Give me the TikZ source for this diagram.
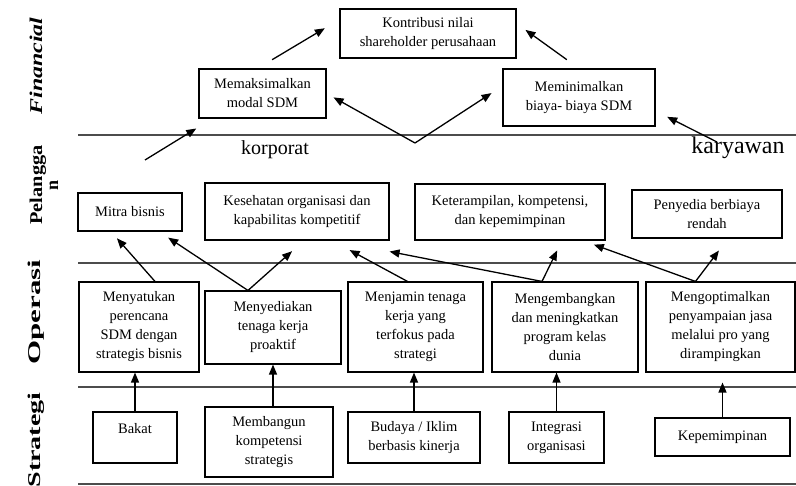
\documentclass[tikz,border=0pt]{standalone}
\usepackage{fontspec}
\setmainfont{Liberation Serif}
\usepackage{graphicx}
\usetikzlibrary{arrows.meta}

\begin{document}
\begin{tikzpicture}[x=1pt, y=-1pt, >={Triangle[length=10pt, width=8pt]},
	every node/.style={font=\fontsize{14.5}{19}\selectfont},
	box/.style={draw, line width=1.1pt, align=center, inner sep=2pt},
	arr/.style={->, line width=1.3pt},
	sep/.style={line width=1.6pt, black!70},
	side/.style={rotate=90, align=center, font=\fontsize{18}{16}\selectfont\bfseries}]
	\useasboundingbox (0,0) rectangle (796,486);
	% layer labels
	\node[side] (financial) at (36,66) {\scalebox{1.33}[1]{\textit{Financial}}};
	\node[side] (pelanggan) at (44,185) {\scalebox{1.13}[1]{Pelangga}\\n};
	\node[side] (operasi) at (36,312) {\scalebox{1.72}[1]{Operasi}};
	\node[side] (strategi) at (36,440) {\scalebox{1.56}[1]{Strategi}};
	% separators
	\draw[sep] (78,135) -- (796,135);
	\draw[sep] (78,263) -- (796,263);
	\draw[sep] (78,387) -- (796,387);
	\draw[sep] (78,484) -- (796,484);
	\node[font=\fontsize{20}{24}\selectfont] (korporat) at (275,150) {korporat};
	\node[font=\fontsize{24}{28}\selectfont] (karyawan) at (738,148) {karyawan};
	% financial
	\node[box, minimum width=176pt, minimum height=49pt] (kontribusi) at (428,33.5) {Kontribusi nilai\\shareholder perusahaan};
	\node[box, minimum width=127pt, minimum height=49pt] (maksimal) at (262.5,93.5) {Memaksimalkan\\modal SDM};
	\node[box, minimum width=152pt, minimum height=57pt] (minimal) at (579,97.5) {Meminimalkan\\biaya- biaya SDM};
	% pelanggan
	\node[box, minimum width=104pt, minimum height=38pt] (mitra) at (130,212) {Mitra bisnis};
	\node[box, minimum width=184pt, minimum height=57pt] (sehat) at (297,211.5) {Kesehatan organisasi dan\\kapabilitas kompetitif};
	\node[box, minimum width=190pt, minimum height=56pt] (terampil) at (510,212) {Keterampilan, kompetensi,\\dan kepemimpinan};
	\node[box, minimum width=150pt, minimum height=48pt] (penyedia) at (707,214) {Penyedia berbiaya\\rendah};
	% operasi
	\node[box, minimum width=120pt, minimum height=90pt] (satukan) at (139,327) {Menyatukan\\perencana\\SDM dengan\\strategis bisnis};
	\node[box, minimum width=136pt, minimum height=73pt] (sediakan) at (273,327.5) {Menyediakan\\tenaga kerja\\proaktif};
	\node[box, minimum width=135pt, minimum height=90pt] (jamin) at (415.5,327) {Menjamin tenaga\\kerja yang\\terfokus pada\\strategi};
	\node[box, minimum width=146pt, minimum height=90pt] (kembang) at (565,327) {Mengembangkan\\dan meningkatkan\\program kelas\\dunia};
	\node[box, minimum width=149pt, minimum height=90pt] (optimal) at (720.5,327) {Mengoptimalkan\\penyampaian jasa\\melalui pro yang\\dirampingkan};
	% strategi
	\node[box, minimum width=84pt, minimum height=51pt] (bakat) at (135,437.5) {Bakat\\\mbox{}};
	\node[box, minimum width=128pt, minimum height=70pt] (bangun) at (269,442) {Membangun\\kompetensi\\strategis};
	\node[box, minimum width=132pt, minimum height=51pt] (budaya) at (414,437.5) {Budaya / Iklim\\berbasis kinerja};
	\node[box, minimum width=95pt, minimum height=51pt] (integrasi) at (556.5,437.5) {Integrasi\\organisasi};
	\node[box, minimum width=135pt, minimum height=38pt] (pimpin) at (722.5,437) {Kepemimpinan};
	% branch points
	\coordinate (vF) at (415,143);
	\coordinate (kiri) at (145,160);
	\coordinate (kanan) at (717,142);
	\coordinate (vA) at ([xshift=-25pt]sediakan.north);
	\coordinate (vB) at ([xshift=-23pt]kembang.north);
	\coordinate (vC) at ([xshift=-25pt]optimal.north);
	% strategi -> operasi
	\draw[arr] (bakat.north) -- (bakat.north |- satukan.south);
	\draw[arr] (bangun.north -| sediakan.south) -- (sediakan.south);
	\draw[arr] (budaya.north) -- (budaya.north |- jamin.south);
	\draw[arr] (integrasi.north) -- (integrasi.north |- kembang.south);
	\draw[arr, shorten >=10pt] (pimpin.north) -- (pimpin.north |- optimal.south);
	% operasi -> pelanggan
	\draw[arr, shorten >=9pt] ([xshift=16pt]satukan.north) -- ([xshift=-19pt]mitra.south);
	\draw[arr, shorten >=11pt] (vA) -- ([xshift=29pt]mitra.south);
	\draw[arr, shorten >=16pt] (vA) -- ([xshift=7pt]sehat.south);
	\draw[arr, shorten >=20pt] ([xshift=-8pt]jamin.north) -- ([xshift=35pt]sehat.south);
	\draw[arr] (vB) -- ([yshift=-11pt]sehat.south east);
	\draw[arr, shorten >=11pt] (vB) -- ([xshift=52pt]terampil.south);
	\draw[arr, shorten >=12pt] (vC) -- ([xshift=-23pt]terampil.south east);
	\draw[arr, shorten >=15pt] (vC) -- ([xshift=21pt]penyedia.south);
	% pelanggan -> financial
	\draw[arr, shorten >=19pt] (kiri) -- ([xshift=14pt]maksimal.south west);
	\draw[arr, shorten >=8pt] (vF) -- (maksimal.east);
	\draw[arr, shorten >=13pt] (vF) -- ([yshift=11.5pt]minimal.west);
	\draw[arr, shorten >=13pt] (kanan) -- ([yshift=-13.5pt]minimal.east);
	\draw[arr, shorten <=17pt, shorten >=17pt] ([xshift=-5pt]maksimal.north) -- ([yshift=14pt]kontribusi.west);
	\draw[arr, shorten <=15pt, shorten >=11pt] (minimal.north) -- ([yshift=10pt]kontribusi.east);
\end{tikzpicture}
\end{document}
